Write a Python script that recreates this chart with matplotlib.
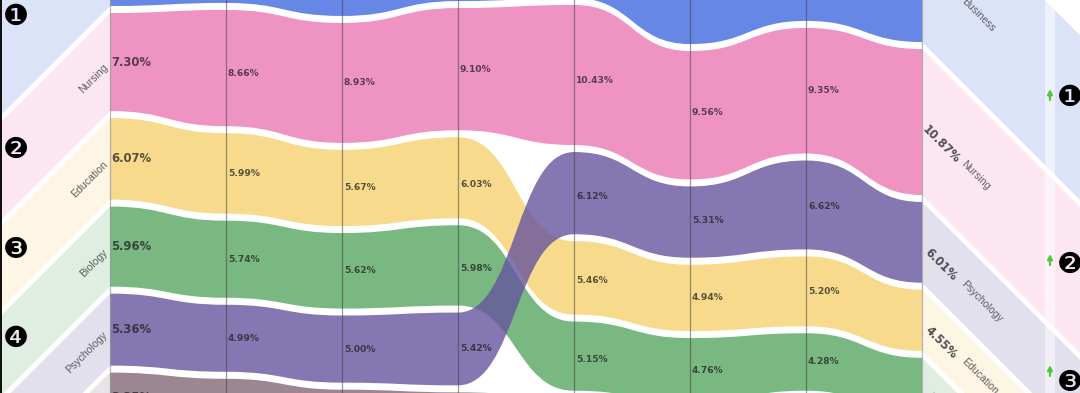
import matplotlib
matplotlib.use("Agg")
import matplotlib.pyplot as plt
from matplotlib.path import Path
from matplotlib.patches import PathPatch, Polygon

# Share of degrees per major, one value per column
nursing = [7.30, 8.66, 8.93, 9.10, 10.43, 9.56, 9.35, 10.87]
education = [6.07, 5.99, 5.67, 6.03, 5.46, 4.94, 5.20, 4.55]
biology = [5.96, 5.74, 5.62, 5.98, 5.15, 4.76, 4.28, 4.20]
psychology = [5.36, 4.99, 5.00, 5.42, 6.12, 5.31, 6.62, 6.01]
fifth = [3.35, 3.30, 3.30, 3.25, 3.20, 3.20, 3.15, 3.10]
business = [12.26, 12.30, 12.40, 12.20, 12.10, 12.50, 12.30, 12.27]

# Where the nursing ribbon starts in each column, same units as the shares
nursing_top = [0.97, 0.74, 1.71, 0.60, 0.37, 3.80, 2.08, 3.65]

# Order of the ribbons below nursing
order_early = ["Education", "Biology", "Psychology", "Fifth"]
order_late = ["Psychology", "Education", "Biology", "Fifth"]

left_ranks = ["❶", "❷", "❸", "❹"]
right_ranks = ["❶", "❷", "❸"]

shares = {"Nursing": nursing, "Education": education, "Biology": biology,
          "Psychology": psychology, "Fifth": fifth}
colors = {"Business": (65, 105, 225), "Nursing": (236, 120, 180),
          "Education": (246, 209, 110), "Biology": (87, 166, 98),
          "Psychology": (102, 85, 159), "Fifth": (130, 104, 119)}
colors = {k: tuple(c / 255 for c in v) for k, v in colors.items()}

# Labels that do not sit exactly in the middle of their ribbon, in pixels
label_nudge = {("Nursing", 1): 5, ("Education", 3): 7, ("Biology", 3): 3, ("Nursing", 4): 5,
               ("Psychology", 4): 3, ("Education", 4): 2.5, ("Biology", 4): 3.5,
               ("Nursing", 5): -2.5, ("Psychology", 5): -1.5, ("Psychology", 6): 1.5,
               ("Fifth", 0): 2}

W, H = 1080, 393
COL_W = 116          # pixels between columns
X0 = 110             # pixel of the first column
PX = 13.43           # pixels per percent
GAP = 7 / PX
SLOPE = COL_W / PX   # 45 degree bands, in data units per column


def xp(px):
    return (px - X0) / COL_W


def yp(px):
    return px / PX


fig = plt.figure(figsize=(W / 100, H / 100), dpi=100)
ax = fig.add_axes([0, 0, 1, 1])
ax.set_xlim(xp(0), xp(W))
ax.set_ylim(yp(H), 0)
ax.axis("off")

# Work out the top and bottom of each ribbon per column
n_cols = len(nursing)
tops = {k: [0.0] * n_cols for k in colors}
bots = {k: [0.0] * n_cols for k in colors}
for i in range(n_cols):
    y = nursing_top[i]
    tops["Nursing"][i] = y
    bots["Nursing"][i] = y + nursing[i]
    bots["Business"][i] = y - GAP
    tops["Business"][i] = y - GAP - business[i]
    y = bots["Nursing"][i] + GAP
    for name in (order_early if i < 4 else order_late):
        tops[name][i] = y
        bots[name][i] = y + shares[name][i]
        y = bots[name][i] + GAP

# Pale diagonal bands either side of the ribbons
x_left, x_right = xp(0), xp(W)
for name in colors:
    t, b = tops[name], bots[name]
    dl = -x_left * SLOPE
    dr = (x_right - (n_cols - 1)) * SLOPE
    ax.add_patch(Polygon([(0, t[0]), (0, b[0]), (x_left, b[0] + dl), (x_left, t[0] + dl)],
                         color=colors[name], alpha=0.18, lw=0, zorder=1))
    ax.add_patch(Polygon([(n_cols - 1, t[-1]), (n_cols - 1, b[-1]),
                          (x_right, b[-1] + dr), (x_right, t[-1] + dr)],
                         color=colors[name], alpha=0.18, lw=0, zorder=1))

# Curved ribbons
for name in colors:
    t, b = tops[name], bots[name]
    verts = [(0, t[0])]
    codes = [Path.MOVETO]
    for i in range(n_cols - 1):
        verts += [(i + 0.5, t[i]), (i + 0.5, t[i + 1]), (i + 1, t[i + 1])]
        codes += [Path.CURVE4] * 3
    verts.append((n_cols - 1, b[-1]))
    codes.append(Path.LINETO)
    for i in range(n_cols - 1, 0, -1):
        verts += [(i - 0.5, b[i]), (i - 0.5, b[i - 1]), (i - 1, b[i - 1])]
        codes += [Path.CURVE4] * 3
    verts.append((0, t[0]))
    codes.append(Path.CLOSEPOLY)
    ax.add_patch(PathPatch(Path(verts, codes), facecolor=colors[name], alpha=0.8, lw=0, zorder=2))

# Column lines
for i in range(n_cols):
    edge = i in (0, n_cols - 1)
    ax.axvline(i, color="#999999" if edge else "#444444", alpha=0.7 if edge else 0.55, lw=0.9, zorder=3)

# Values inside the ribbons, skipping the ones that fall below the picture
for name, vals in shares.items():
    for i in range(n_cols - 1):
        mid = (tops[name][i] + bots[name][i]) / 2 + yp(label_nudge.get((name, i), 0))
        if mid * PX - 5 > H:
            continue
        ax.text(i + (1 if i == 0 else 2) / COL_W, mid, f"{vals[i]:.2f}%", ha="left", va="center",
                fontsize=8.4 if i == 0 else 6.6, fontweight="bold", color="#222222",
                alpha=0.75, zorder=4, clip_on=True)

# Major names on the left bands
name_font = ["Liberation Sans", "DejaVu Sans"]
for name in ["Nursing", "Education", "Biology", "Psychology"]:
    mid = (tops[name][0] + bots[name][0]) / 2
    ax.text(xp(106), mid + yp(4), name, rotation=45, rotation_mode="anchor", ha="right", va="center",
            fontsize=7.6, family=name_font, color="#606060", zorder=4, clip_on=True)

# Values and names on the right bands
last = n_cols - 1
for name in ["Nursing", "Psychology", "Education", "Biology"]:
    mid = (tops[name][last] + bots[name][last]) / 2
    ax.text(xp(941), mid + yp(22), f"{shares[name][last]:.2f}%", rotation=-45, rotation_mode="anchor",
            ha="center", va="center", fontsize=8.3, fontweight="bold", color="#505050", zorder=4, clip_on=True)
    if name != "Biology":
        ax.text(xp(963), mid + yp(40), name, rotation=-45, rotation_mode="anchor", ha="left", va="center",
                fontsize=7.6, family=name_font, color="#606060", zorder=4, clip_on=True)
mid = (tops["Business"][last] + bots["Business"][last]) / 2
ax.text(xp(963), mid + yp(40), "Business", rotation=-45, rotation_mode="anchor", ha="left", va="center",
        fontsize=7.6, family=name_font, color="#606060", zorder=4, clip_on=True)

# Lighter stripe next to the ranks on the right, dark edge on the left
ax.axvspan(xp(1045), xp(1055), color="white", alpha=0.5, lw=0, zorder=1.5)
ax.axvspan(xp(0), xp(2), color="#111111", lw=0, zorder=5)

# Rank markers
for label, y in zip(left_ranks, [17, 150, 250, 339]):
    ax.text(xp(16), yp(y), label, ha="center", va="center", fontsize=21, color="black", zorder=5,
            family="DejaVu Sans")
for label, y, arrow_y in zip(right_ranks, [98, 265, 383], [95, 260, 371]):
    ax.text(xp(1070), yp(y), label, ha="center", va="center", fontsize=21, color="black", zorder=5,
            family="DejaVu Sans")
    ax.annotate("", xy=(xp(1050), yp(arrow_y - 6)), xytext=(xp(1050), yp(arrow_y + 5)),
                arrowprops=dict(arrowstyle="-|>", color="#50c838", lw=1.6, mutation_scale=7,
                                shrinkA=0, shrinkB=0), zorder=5)

plt.savefig("out.png", dpi=100)
